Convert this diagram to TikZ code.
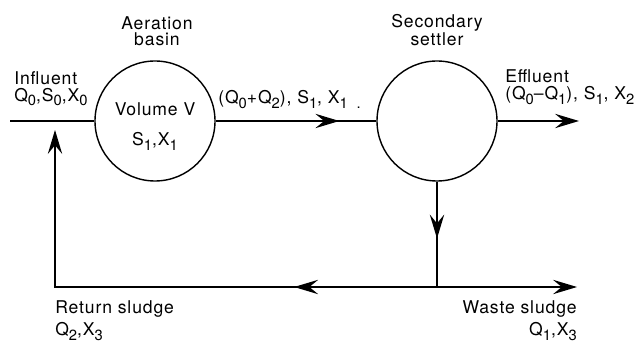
\documentclass[tikz,border=0pt]{standalone}
\usepackage{fontspec}
\setmainfont[LetterSpace=5]{TeX Gyre Heros}
\usepackage{tikz}
\usetikzlibrary{arrows.meta,decorations.markings}
\newcommand\lo[1]{\raisebox{-3.5pt}{\fontsize{10.5}{10.5}\selectfont #1}}

\begin{document}
\begin{tikzpicture}[
  x=.25mm,y=-.25mm,>={Stealth[length=6mm,width=3.6mm,inset=2.2mm]},
  vessel/.style={draw,circle,line width=1pt,minimum size=30mm,inner sep=0pt,
    align=center,font=\fontsize{12.5}{11.4}\selectfont},
  pipe/.style={draw,line width=1pt},
  flowat/.style={pipe,postaction={decorate},
    decoration={markings,mark=at position #1 with {\arrow{>}}}},
  txt/.style={font=\fontsize{12.5}{11.4}\selectfont,inner sep=0pt}
]
\useasboundingbox (0,0) rectangle (643,345);

\node[vessel] (basin) at (155,121)
  {\rule{0pt}{17pt}Volume V\\[10pt]S\lo1,X\lo1};
\node[vessel] (settler) at (437,121) {};

\coordinate (inlet) at (10,121);
\coordinate (outlet) at (579,121);
\coordinate (split) at (settler.south |- 0,287);
\coordinate (waste) at (577,287);
\coordinate (bend) at (55,287);
\coordinate (retend) at (55,130);

\draw[pipe] (inlet) -- (basin);
\draw[flowat=.77] (basin) -- (settler);
\draw[pipe,->] (settler) -- (outlet);
\draw[flowat=.54] (settler.south) -- (split);
\draw[pipe,->] (split) -- (waste);
\draw[flowat=.265,->] (split) -- (bend) -- (retend);

\node[txt,align=center,anchor=north] (basinname) at (157,16)
  {Aeration\\basin};
\node[txt,align=center,anchor=north] (settlername) at (437,14)
  {Secondary\\settler};
\node[txt,align=left,anchor=north west] (influent) at (14,71)
  {Influent\\[.6pt]Q\lo0,S\lo0,X\lo0};
\node[txt,anchor=base west] (mixed) at (218,104)
  {(Q\lo0+Q\lo2), S\lo1, X\lo1\hspace{.5em}\lo{.}};
\node[txt,align=left,anchor=north west] (effluent) at (505,69)
  {Effluent\\[1pt](Q\lo0--Q\lo1), S\lo1, X\lo2};
\node[txt,align=left,anchor=north west] (returned) at (55,300)
  {Return sludge\\[3pt]Q\lo2,X\lo3};
\node[txt,align=right,anchor=north east] (wasted) at (577,300)
  {Waste sludge\\[3pt]Q\lo1,X\lo3};
\end{tikzpicture}
\end{document}
